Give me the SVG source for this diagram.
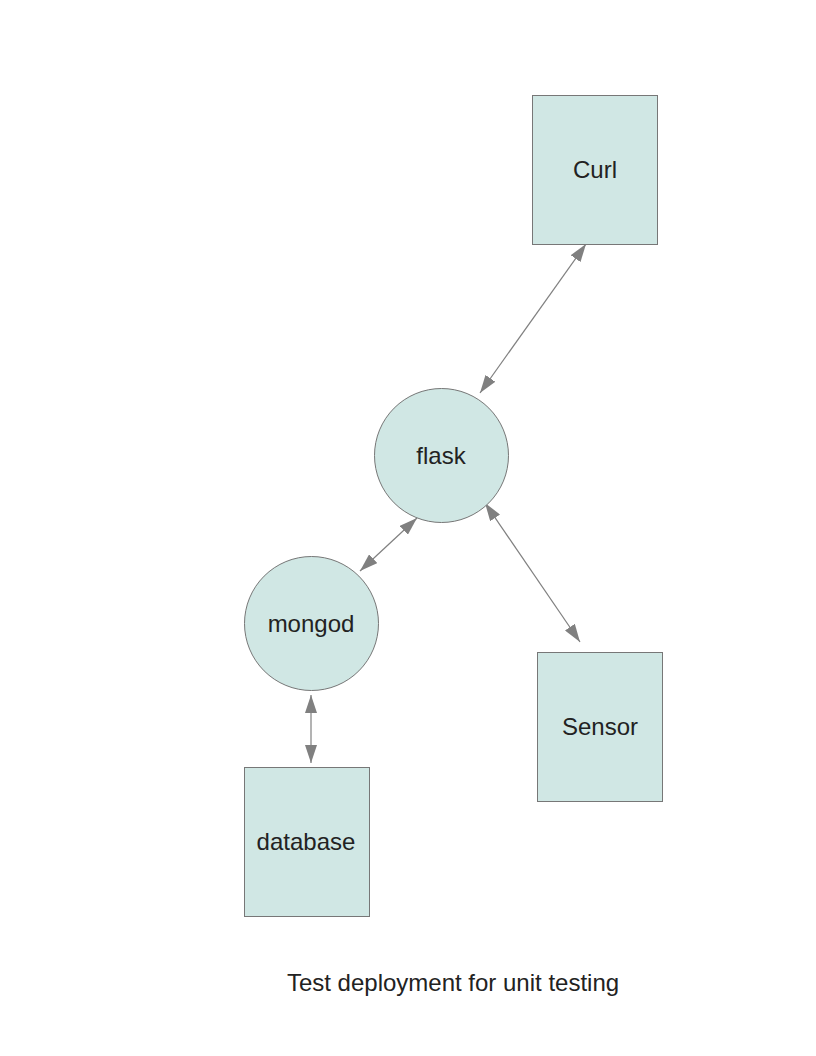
<svg xmlns="http://www.w3.org/2000/svg" width="816" height="1056" viewBox="0 0 816 1056">
<style>
.n{fill:#d0e7e4;stroke:#777;stroke-width:1}
.t{font-family:"Liberation Sans",Arial,sans-serif;font-size:24px;fill:#222;text-anchor:middle;dominant-baseline:central}
.c{stroke:#808080;stroke-width:1.2;fill:none;marker-start:url(#ah);marker-end:url(#ah)}
</style>
<defs>
<marker id="ah" viewBox="0 0 18 12" refX="18" refY="6" markerWidth="18" markerHeight="12" markerUnits="userSpaceOnUse" orient="auto-start-reverse">
<path d="M0,0 L18,6 L0,12 Z" fill="#808080"/>
</marker>
</defs>
<rect width="816" height="1056" fill="#fff"/>
<g id="connectors">
<line class="c" x1="586" y1="244" x2="480" y2="393"/>
<line class="c" x1="417" y1="518" x2="360" y2="571"/>
<line class="c" x1="485" y1="503" x2="580" y2="642"/>
<line class="c" x1="311" y1="695" x2="311" y2="763"/>
</g>
<g id="curl"><rect class="n" x="532.5" y="95.5" width="125" height="149"/><text class="t" x="595" y="169">Curl</text></g>
<g id="flask"><circle class="n" cx="441.5" cy="455.5" r="67"/><text class="t" x="441" y="455">flask</text></g>
<g id="mongod"><circle class="n" cx="311.5" cy="623.5" r="67"/><text class="t" x="311" y="623">mongod</text></g>
<g id="sensor"><rect class="n" x="537.5" y="652.5" width="125" height="149"/><text class="t" x="600" y="726">Sensor</text></g>
<g id="database"><rect class="n" x="244.5" y="767.5" width="125" height="149"/><text class="t" x="306" y="841">database</text></g>
<text id="title" class="t" x="453" y="982">Test deployment for unit testing</text>
</svg>
